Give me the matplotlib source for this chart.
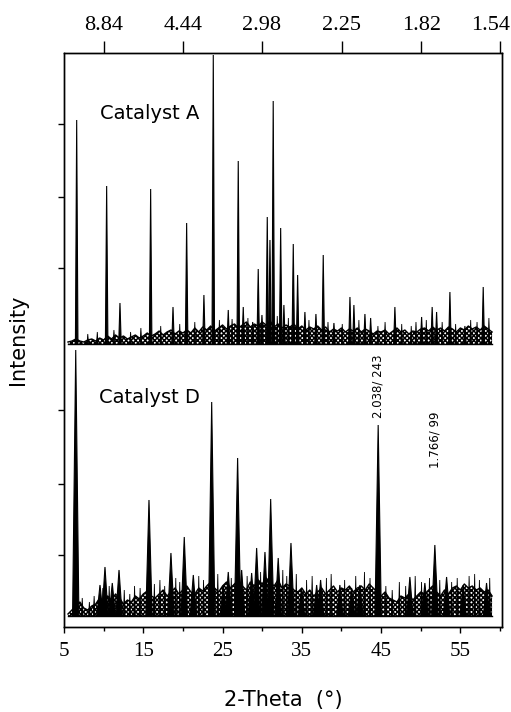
#!/usr/bin/env python3
import numpy as np
import matplotlib
matplotlib.use("Agg")
import matplotlib.pyplot as plt
from matplotlib.transforms import ScaledTranslation

matplotlib.rcParams["hatch.linewidth"] = 1.1

# peaks: 2-theta (deg) and height (arbitrary units)
peaks_a_pos = [6.60, 10.38, 12.06, 15.93, 18.75, 20.47, 22.65, 23.83, 25.72, 26.98,
               27.61, 28.80, 29.50, 29.97, 30.64, 30.98, 31.39, 32.33, 32.74, 33.92,
               34.47, 35.39, 36.78, 37.70, 39.05, 41.07, 41.57, 42.96, 43.68, 46.74,
               50.11, 51.44, 52.00, 53.68, 55.57, 57.88]
peaks_a_int = [224, 158, 41, 155, 37, 121, 49, 289, 34, 183,
               37, 22, 75, 29, 127, 104, 243, 116, 39, 100,
               69, 32, 30, 89, 21, 47, 39, 30, 26, 37,
               27, 37, 32, 52, 18, 57]

peaks_d_pos = [6.48, 9.54, 10.17, 11.09, 11.94, 15.72, 18.49, 20.17, 21.31, 23.63,
               25.09, 25.72, 26.90, 27.41, 28.67, 29.30, 30.35, 31.07, 32.02, 33.63,
               34.97, 36.87, 37.37, 39.80, 41.28, 42.33, 44.63, 48.63, 50.52, 51.78,
               53.26, 55.35, 58.30]
peaks_d_int = [266, 31, 49, 33, 46, 116, 63, 79, 41, 214,
               31, 44, 158, 46, 43, 68, 64, 117, 58, 73,
               28, 31, 36, 31, 28, 31, 191, 39, 33, 71,
               39, 31, 33]

# small noise spikes
noise_a_pos = [8.0, 9.2, 11.3, 13.4, 14.7, 17.2, 19.6, 21.5, 24.6, 26.2,
               28.2, 31.9, 33.3, 35.9, 38.3, 40.1, 42.2, 44.6, 45.5, 47.6,
               48.8, 49.4, 50.7, 52.7, 54.4, 56.3, 57.1, 58.6]
noise_a_int = [10, 12, 14, 12, 16, 18, 20, 22, 24, 25,
               26, 28, 26, 24, 22, 20, 24, 18, 22, 20,
               18, 22, 24, 22, 20, 24, 22, 26]
noise_d_pos = [7.3, 8.2, 8.8, 9.9, 10.7, 12.6, 13.3, 13.9, 14.6, 16.4,
               17.1, 17.7, 19.1, 19.6, 22.0, 22.6, 24.4, 26.1, 28.1, 29.8,
               32.6, 33.1, 34.3, 35.6, 36.3, 38.1, 38.7, 40.4, 41.8, 42.9,
               43.6, 45.6, 46.4, 47.3, 48.1, 49.3, 50.1, 51.1, 52.4, 53.9,
               54.6, 56.1, 56.8, 57.4, 58.7]
noise_d_int = [18, 14, 20, 28, 30, 26, 22, 30, 28, 32,
               36, 30, 38, 34, 40, 36, 42, 38, 40, 44,
               46, 40, 42, 36, 40, 38, 42, 36, 40, 44,
               38, 30, 26, 34, 30, 40, 34, 38, 36, 34,
               38, 40, 42, 36, 38]

# background noise level, every 0.5 deg from 5.5 to 59
bg_a = [2, 3, 5, 3, 2, 4, 5, 3, 6, 4,
        8, 5, 9, 6, 8, 5, 7, 9, 6, 8,
        11, 8, 10, 13, 9, 12, 14, 10, 13, 11,
        14, 11, 16, 12, 17, 14, 18, 13, 16, 19,
        15, 18, 20, 16, 19, 22, 17, 20, 18, 22,
        19, 23, 17, 20, 16, 19, 17, 20, 15, 18,
        14, 17, 15, 18, 14, 17, 12, 15, 13, 16,
        12, 15, 13, 16, 12, 15, 13, 10, 13, 12,
        14, 10, 13, 16, 12, 14, 10, 13, 12, 15,
        16, 13, 17, 14, 16, 13, 17, 15, 12, 16,
        14, 18, 15, 17, 14, 18, 15, 12]
bg_d = [2, 6, 10, 14, 8, 6, 10, 12, 18, 15,
        20, 16, 22, 18, 12, 16, 14, 20, 17, 22,
        25, 20, 18, 22, 26, 20, 24, 28, 22, 26,
        30, 24, 22, 28, 25, 30, 34, 28, 24, 30,
        34, 28, 32, 36, 30, 26, 34, 30, 36, 32,
        38, 34, 30, 36, 28, 32, 30, 26, 24, 28,
        22, 26, 20, 24, 28, 22, 26, 30, 24, 28,
        26, 30, 24, 28, 30, 26, 32, 28, 24, 20,
        24, 18, 16, 14, 20, 18, 22, 16, 20, 24,
        22, 26, 30, 24, 20, 26, 22, 28, 30, 26,
        32, 28, 30, 26, 28, 24, 26, 20]
bg_x = np.arange(5.5, 59.01, 0.5)

d_labels = ["8.84", "4.44", "2.98", "2.25", "1.82", "1.54"]
bottom_ticks = [5, 15, 25, 35, 45, 55]
annotations = [(44.63, "2.038/ 243"), (51.78, "1.766/ 99")]

WAVELENGTH = 1.5406  # Cu K-alpha
OFF_D = 11
OFF_A = 283


def spikes(ax, pos, inten, offset, halfwidth, lw=0.8):
    for p, h in zip(pos, inten):
        ax.fill([p - halfwidth, p, p + halfwidth], [offset, offset + h, offset],
                color="black", lw=lw)


def draw_pattern(ax, pos, inten, bg, noise_pos, noise_int, offset, halfwidth):
    ax.fill_between(bg_x, offset, offset + np.array(bg), facecolor="white",
                    edgecolor="black", hatch="xxxxxxx", linewidth=0)
    ax.plot(bg_x, offset + np.array(bg), color="black", lw=1.0)
    spikes(ax, noise_pos, noise_int, offset, 0.1, lw=0.6)
    spikes(ax, pos, inten, offset, halfwidth)
    ax.plot([bg_x[0], bg_x[-1]], [offset, offset], color="black", lw=1.0)


def main():
    fig = plt.figure(figsize=(5.11, 7.12), dpi=100)
    ax = fig.add_axes([64 / 511, 85 / 712, 438 / 511, 574 / 712])

    draw_pattern(ax, peaks_a_pos, peaks_a_int, bg_a, noise_a_pos, noise_a_int,
                 OFF_A, 0.16)
    draw_pattern(ax, peaks_d_pos, peaks_d_int, bg_d, noise_d_pos, noise_d_int,
                 OFF_D, 0.4)

    ax.set_xlim(5, 60.25)
    ax.set_ylim(0, 574)

    ax.set_xticks(bottom_ticks)
    ax.set_xticks([10, 20, 30, 40, 50, 60], minor=True)
    ax.tick_params(axis="x", direction="out", length=4, width=1, pad=7,
                   labelsize=15, labelfontfamily="Liberation Serif")
    ax.tick_params(axis="x", which="minor", direction="out", length=3, width=1)
    ax.set_yticks([72, 143, 217, 359, 430, 503])
    ax.tick_params(axis="y", direction="out", length=4, width=1, labelleft=False)

    top = ax.twiny()
    top.set_xlim(ax.get_xlim())
    d = np.array([float(s) for s in d_labels])
    two_theta = 2 * np.degrees(np.arcsin(WAVELENGTH / (2 * d)))
    top.set_xticks(two_theta)
    top.set_xticklabels(d_labels)
    top.tick_params(axis="x", direction="out", length=9, width=1, pad=4,
                    labelsize=16, labelfontfamily="Liberation Serif")
    # last label sits left of its tick in the original
    last = top.get_xticklabels()[-1]
    last.set_transform(last.get_transform() +
                       ScaledTranslation(-10 / 100, 0, fig.dpi_scale_trans))

    for a in (ax, top):
        for sp in a.spines.values():
            sp.set_linewidth(1.0)

    ax.text(0.196, 0.895, "Catalyst A", transform=ax.transAxes, ha="center",
            va="center", fontsize=14, family="DejaVu Sans")
    ax.text(0.196, 0.399, "Catalyst D", transform=ax.transAxes, ha="center",
            va="center", fontsize=14, family="DejaVu Sans")

    ax.text(annotations[0][0], 209, annotations[0][1], rotation=90, ha="center",
            va="bottom", fontsize=8.5, family="DejaVu Sans")
    ax.text(annotations[1][0], 159, annotations[1][1], rotation=90, ha="center",
            va="bottom", fontsize=8.5, family="DejaVu Sans")

    fig.text(18 / 511, 1 - 340 / 712, "Intensity", rotation=90, ha="center",
             va="center", fontsize=15, family="DejaVu Sans")
    fig.text(283 / 511, 1 - 700 / 712, "2-Theta  (°)", ha="center",
             va="center", fontsize=15, family="DejaVu Sans")

    fig.savefig("out.png", dpi=100)


if __name__ == "__main__":
    main()
